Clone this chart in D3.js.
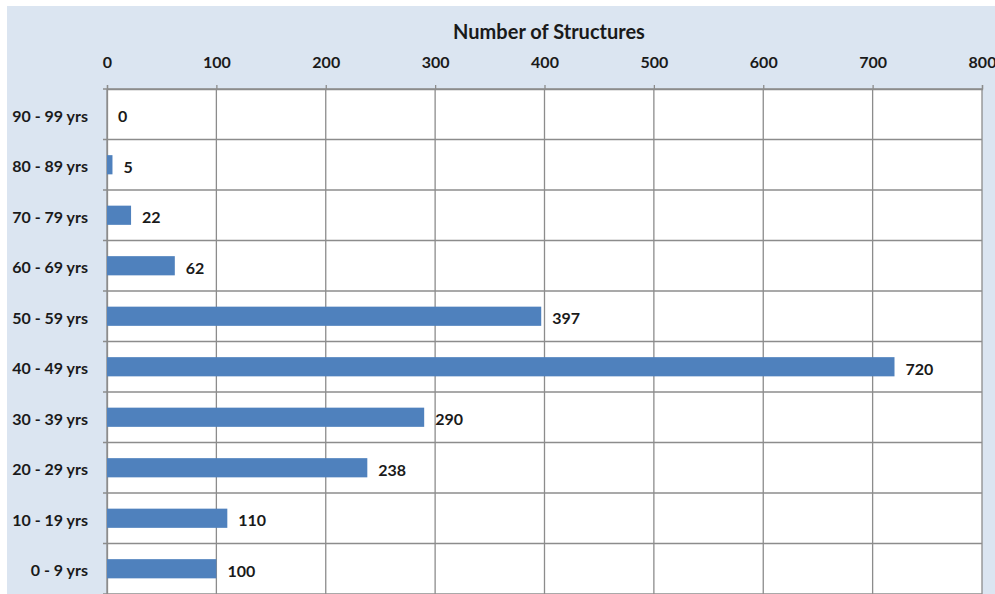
<!DOCTYPE html>
<html>
<head>
<meta charset="utf-8">
<script src="https://cdn.jsdelivr.net/npm/d3@7"></script>
<style>
  html, body { margin: 0; padding: 0; background: #ffffff; }
  svg { display: block; }
  text { font-family: Lato, "Open Sans", sans-serif; font-weight: bold; fill: #1a1a1a; }
</style>
</head>
<body>
<svg id="chart" width="995" height="594"></svg>
<script>
// Age bands, top to bottom
const categories = ["90 - 99 yrs", "80 - 89 yrs", "70 - 79 yrs", "60 - 69 yrs", "50 - 59 yrs",
                    "40 - 49 yrs", "30 - 39 yrs", "20 - 29 yrs", "10 - 19 yrs", "0 - 9 yrs"];
// Number of structures in each age band
const counts = [0, 5, 22, 62, 397, 720, 290, 238, 110, 100];
const xTicks = [0, 100, 200, 300, 400, 500, 600, 700, 800];
const axisTitle = "Number of Structures";

const svg = d3.select("#chart");
const W = 995, H = 594;
const plot = { left: 107, right: 982, top: 89, bottom: 594 };

// Panel background
svg.append("rect")
  .attr("x", 7).attr("y", 6)
  .attr("width", W - 7).attr("height", H - 6)
  .attr("fill", "#dbe5f1");

// Plot area
svg.append("rect")
  .attr("x", plot.left).attr("y", plot.top)
  .attr("width", plot.right - plot.left).attr("height", plot.bottom - plot.top)
  .attr("fill", "#ffffff");

const x = d3.scaleLinear().domain([0, 800]).range([plot.left, plot.right]);
const y = d3.scaleBand().domain(categories).range([plot.top, plot.bottom])
  .paddingInner(0.62).paddingOuter(0.31);

const grid = "#8c8c8c";

// Vertical gridlines
svg.append("g").selectAll("line").data(xTicks).join("line")
  .attr("x1", d => x(d)).attr("x2", d => x(d))
  .attr("y1", plot.top).attr("y2", plot.bottom)
  .attr("stroke", grid).attr("stroke-width", 1.3);

// Horizontal gridlines at band boundaries
const step = y.step();
const bounds = d3.range(categories.length + 1).map(i => plot.top + i * step);
svg.append("g").selectAll("line").data(bounds).join("line")
  .attr("x1", plot.left - 4).attr("x2", plot.right)
  .attr("y1", d => d).attr("y2", d => d)
  .attr("stroke", grid).attr("stroke-width", 1.3);

// Top axis
const xAxis = d3.axisTop(x).tickValues(xTicks).tickSize(4).tickPadding(17).tickFormat(d3.format("d"));
const gx = svg.append("g").attr("transform", `translate(0,${plot.top})`).call(xAxis);
gx.select(".domain").attr("stroke", grid).attr("stroke-width", 1.3);
gx.selectAll(".tick line").attr("stroke", grid).attr("stroke-width", 1.3);
gx.selectAll(".tick text")
  .style("font-size", "16px").style("font-family", "Lato, sans-serif")
  .style("font-weight", "bold").attr("fill", "#1a1a1a");

// Axis title
svg.append("text")
  .attr("x", 549).attr("y", 39)
  .attr("text-anchor", "middle")
  .style("font-size", "20px")
  .text(axisTitle);

// Category labels
const yAxis = d3.axisLeft(y).tickSize(0).tickPadding(19);
const gy = svg.append("g").attr("transform", `translate(${plot.left},0)`).call(yAxis);
gy.select(".domain").attr("stroke", grid).attr("stroke-width", 1.3);
gy.selectAll(".tick text")
  .attr("dy", "0.48em")
  .style("font-size", "16px").style("font-family", "Lato, sans-serif")
  .style("font-weight", "bold").attr("fill", "#1a1a1a");

// Bars
svg.append("g").selectAll("rect").data(counts).join("rect")
  .attr("x", x(0))
  .attr("y", (d, i) => y(categories[i]))
  .attr("width", d => x(d) - x(0))
  .attr("height", y.bandwidth())
  .attr("fill", "#4f81bd");

// Value labels
svg.append("g").selectAll("text").data(counts).join("text")
  .attr("x", d => x(d) + 11)
  .attr("y", (d, i) => y(categories[i]) + y.bandwidth() / 2)
  .attr("dy", "0.5em")
  .style("font-size", "16px")
  .text(d => d);
</script>
</body>
</html>
